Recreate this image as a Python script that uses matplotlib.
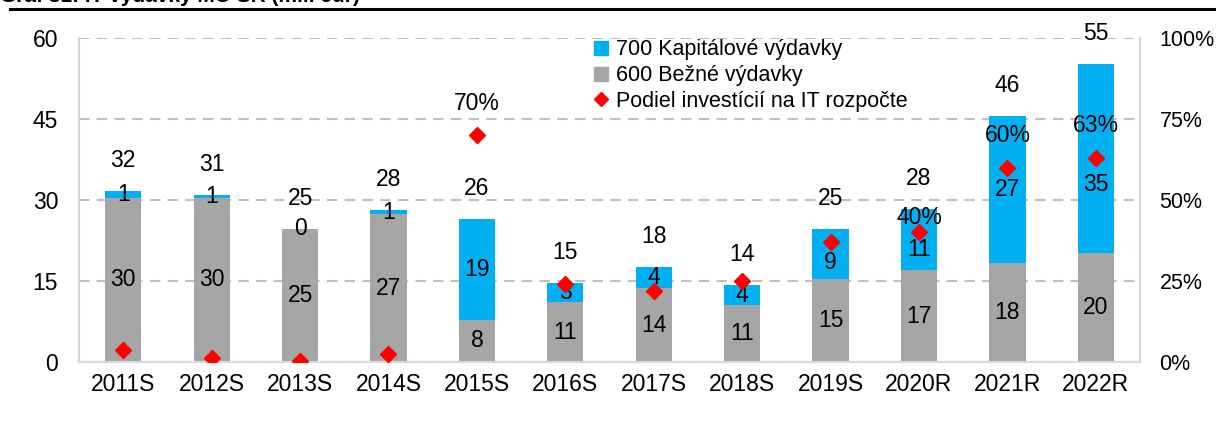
import matplotlib
matplotlib.use("Agg")
import matplotlib.pyplot as plt
from matplotlib.lines import Line2D
import numpy as np

plt.rcParams['font.family'] = ['Liberation Sans Narrow', 'Liberation Sans', 'DejaVu Sans']

# IT výdavky MO SR, mil. eur
roky = ['2011S', '2012S', '2013S', '2014S', '2015S', '2016S',
        '2017S', '2018S', '2019S', '2020R', '2021R', '2022R']
bezne = [30.4, 30.4, 24.6, 27.4, 7.8, 11.1, 13.7, 10.6, 15.4, 17.0, 18.4, 20.2]
kapitalove = [1.3, 0.6, 0.1, 0.7, 18.6, 3.45, 3.9, 3.6, 9.2, 11.3, 27.2, 35.0]
podiel = [3.7, 1.2, 0.4, 2.5, 70, 24, 22, 25, 37, 40, 60, 63]   # %
podiel_popis = {'2015S': '70%', '2020R': '40%', '2021R': '60%', '2022R': '63%'}

modra = '#00B0F0'
seda = '#A6A6A6'
cervena = '#FF0000'

fig = plt.figure(figsize=(12.16, 4.21), dpi=100)
ax = fig.add_axes([0.065, 0.140, 0.8725, 0.770])
ax2 = ax.twinx()

x = np.arange(len(roky))
w = 0.41
spolu = np.array(bezne) + np.array(kapitalove)

ax.bar(x, bezne, w, color=seda, zorder=3)
ax.bar(x, kapitalove, w, bottom=bezne, color=modra, zorder=3)

# popisky modrých segmentov posunuté nižšie, aby neprekrývali kosoštvorce
posun_dole = {'2019S': 6, '2020R': 7, '2022R': 19}

fs = 16.5
for i, r in enumerate(roky):
    ax.text(x[i], bezne[i] / 2, f'{round(bezne[i]):d}', ha='center', va='center', fontsize=fs, zorder=5)
    ax.annotate(f'{round(kapitalove[i]):d}', (x[i], bezne[i] + kapitalove[i] / 2),
                xytext=(0, -posun_dole.get(r, 0)), textcoords='offset points',
                ha='center', va='center', fontsize=fs, zorder=5)
    ax.annotate(f'{round(spolu[i]):d}', (x[i], spolu[i]), xytext=(0, 22),
                textcoords='offset points', ha='center', va='center', fontsize=fs)

ax.set_xlim(-0.5, len(roky) - 0.5)
ax.set_ylim(0, 60)
ax.set_yticks([0, 15, 30, 45, 60])
ax.set_xticks(x)
ax.set_xticklabels(roky)
ax.yaxis.grid(True, color='#BFBFBF', linestyle=(0, (5, 3.5)), linewidth=1.5, zorder=0)
ax.set_axisbelow(True)

ax2.plot(x, podiel, linestyle='none', marker='D', markersize=8.5, color=cervena, zorder=6)
ax2.set_ylim(0, 100)
ax2.set_yticks([0, 25, 50, 75, 100])
ax2.set_yticklabels([f'{v}%' for v in [0, 25, 50, 75, 100]])
for i, r in enumerate(roky):
    if r in podiel_popis:
        dy = 11 if r == '2020R' else 23
        ax2.annotate(podiel_popis[r], (x[i], podiel[i]), xytext=(0, dy),
                     textcoords='offset points', ha='center', va='center', fontsize=fs)

for a in (ax, ax2):
    a.tick_params(length=0, labelsize=fs)
    a.spines['top'].set_visible(False)
    for s in ('left', 'right', 'bottom'):
        a.spines[s].set_color('#D9D9D9')
        a.spines[s].set_linewidth(1.5)
ax.tick_params(axis='y', pad=15)
ax.tick_params(axis='x', pad=8)
ax2.tick_params(axis='y', pad=14, labelsize=15.5)

handles = [Line2D([], [], linestyle='none', marker='s', markersize=10, color=modra),
           Line2D([], [], linestyle='none', marker='s', markersize=10, color=seda),
           Line2D([], [], linestyle='none', marker='D', markersize=7, color=cervena)]
ax2.legend(handles, ['700 Kapitálové výdavky', '600 Bežné výdavky', 'Podiel investícií na IT rozpočte'],
           loc='upper left', bbox_to_anchor=(0.472, 1.035), frameon=False, fontsize=15.5,
           handlelength=0.8, handletextpad=0.3, labelspacing=0.22, borderaxespad=0.2)

# nadpis grafu a čiara pod ním
fig.text(0.0, 1.008, 'Graf 31: IT výdavky MO SR (mil. eur)', fontsize=15, fontweight='bold',
         family=['Liberation Sans', 'DejaVu Sans'], ha='left', va='center')
fig.add_artist(Line2D([0.008, 1.0], [0.979, 0.979], color='black', linewidth=2.2))

fig.savefig('out.png', dpi=100)
